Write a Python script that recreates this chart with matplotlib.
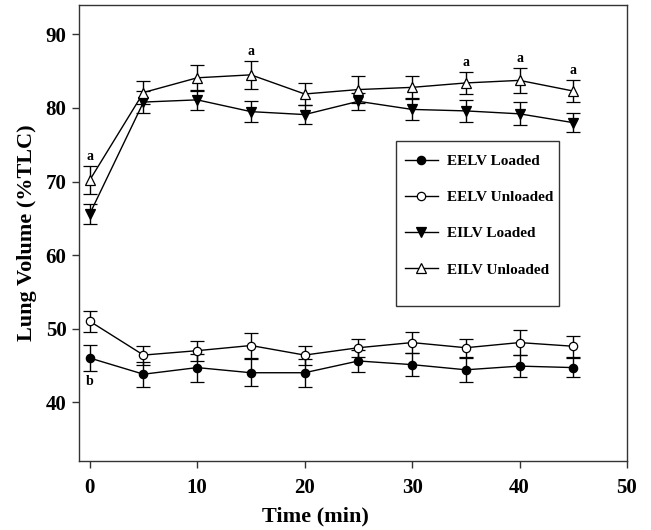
import numpy as np
import matplotlib
matplotlib.use("Agg")
import matplotlib.pyplot as plt
from matplotlib.patches import Rectangle

plt.rcParams["font.family"] = ["Liberation Serif", "DejaVu Serif"]
plt.rcParams["font.weight"] = "bold"

time_min = [0, 5, 10, 15, 20, 25, 30, 35, 40, 45]

eelv_loaded = [46.0, 43.8, 44.7, 44.0, 44.0, 45.6, 45.1, 44.4, 44.9, 44.7]
eelv_loaded_sd = [1.75, 1.7, 1.9, 1.8, 1.9, 1.5, 1.55, 1.6, 1.5, 1.3]

eelv_unloaded = [51.0, 46.4, 47.0, 47.7, 46.4, 47.4, 48.1, 47.4, 48.1, 47.6]
eelv_unloaded_sd = [1.45, 1.3, 1.35, 1.7, 1.3, 1.25, 1.4, 1.2, 1.75, 1.4]

eilv_loaded = [65.6, 80.8, 81.1, 79.5, 79.1, 80.9, 79.8, 79.6, 79.2, 78.0]
eilv_loaded_sd = [1.4, 1.5, 1.4, 1.45, 1.3, 1.2, 1.5, 1.5, 1.55, 1.3]

eilv_unloaded = [70.2, 82.1, 84.1, 84.5, 81.9, 82.5, 82.8, 83.4, 83.75, 82.3]
eilv_unloaded_sd = [1.95, 1.5, 1.8, 1.9, 1.5, 1.8, 1.6, 1.55, 1.65, 1.45]

# times where EILV unloaded gets an "a"
a_times = [0, 15, 35, 40, 45]

fig = plt.figure(figsize=(6.51, 5.30), dpi=100)
ax = fig.add_axes([0.1214, 0.1302, 0.8417, 0.8604])

series = [
    (eelv_loaded, eelv_loaded_sd, "o", "black", "EELV Loaded", 6),
    (eelv_unloaded, eelv_unloaded_sd, "o", "white", "EELV Unloaded", 6),
    (eilv_loaded, eilv_loaded_sd, "v", "black", "EILV Loaded", 7),
    (eilv_unloaded, eilv_unloaded_sd, "^", "white", "EILV Unloaded", 7),
]

handles = []
labels = []
for vals, sd, mk, fc, lab, ms in series:
    eb = ax.errorbar(time_min, vals, yerr=sd, fmt="-", color="black", lw=1.0,
                     marker=mk, markersize=ms, markerfacecolor=fc,
                     markeredgecolor="black", markeredgewidth=0.9,
                     ecolor="black", elinewidth=1.0, capsize=5, capthick=1.0)
    handles.append(eb[0])
    labels.append(lab)

for t in a_times:
    i = time_min.index(t)
    ax.text(t, eilv_unloaded[i] + eilv_unloaded_sd[i] + 0.4, "a",
            ha="center", va="bottom", fontsize=10, fontweight="bold")
ax.text(0, eelv_loaded[0] - eelv_loaded_sd[0] - 0.5, "b",
        ha="center", va="top", fontsize=10, fontweight="bold")

ax.set_xlim(-1, 50)
ax.set_ylim(32, 94)
ax.set_xticks([0, 10, 20, 30, 40, 50])
ax.set_yticks([40, 50, 60, 70, 80, 90])

ax.tick_params(axis="both", direction="out", length=5, width=1.0,
               labelsize=15, colors="#333333", labelcolor="black")
ax.tick_params(axis="x", pad=7)
ax.tick_params(axis="y", pad=4)
ax.tick_params(top=False, right=False)
for lbl in ax.get_xticklabels() + ax.get_yticklabels():
    lbl.set_fontweight("bold")

for sp in ax.spines.values():
    sp.set_color("#333333")
    sp.set_linewidth(1.0)

ax.set_xlabel("Time (min)", fontsize=16, fontweight="bold")
ax.xaxis.set_label_coords(0.432, -0.099)
ax.set_ylabel("Lung Volume (%TLC)", fontsize=16, fontweight="bold", labelpad=6)

leg = ax.legend(handles, labels, loc="upper left",
                bbox_to_anchor=(0.569, 0.703), frameon=False,
                fontsize=11, labelspacing=1.48, handlelength=2.2,
                handletextpad=0.6, borderpad=0.4)
for txt in leg.get_texts():
    txt.set_fontweight("bold")

ax.add_patch(Rectangle((0.578, 0.340), 0.298, 0.362, transform=ax.transAxes,
                       fill=False, edgecolor="#333333", lw=1.0))

fig.savefig("out.png", dpi=100)
